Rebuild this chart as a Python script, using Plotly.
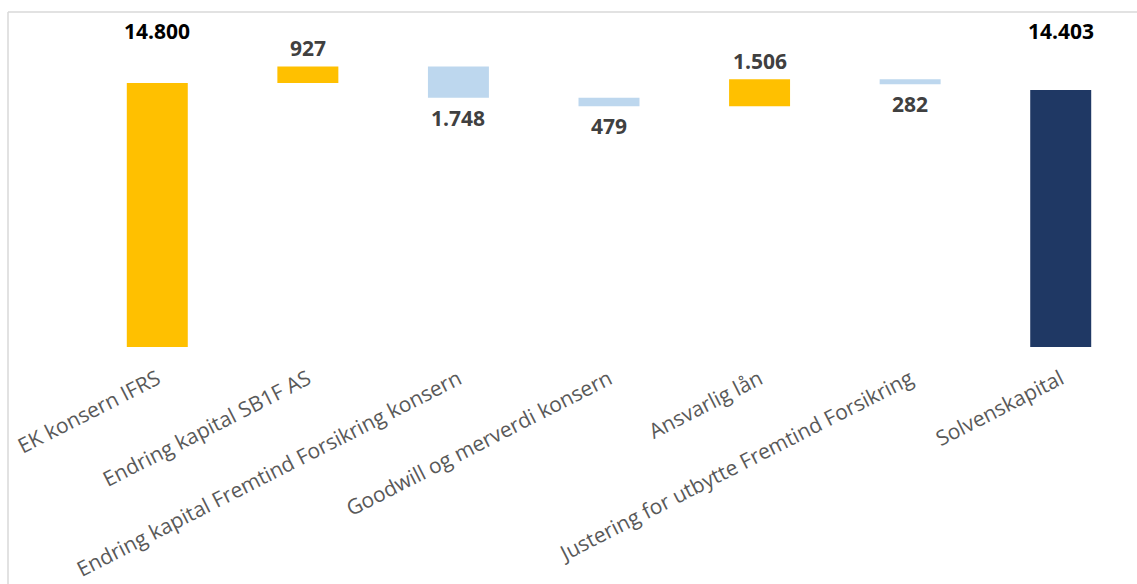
import plotly.graph_objects as go

categories = [
    "EK konsern IFRS",
    "Endring kapital SB1F AS",
    "Endring kapital Fremtind Forsikring konsern",
    "Goodwill og merverdi konsern",
    "Ansvarlig lån",
    "Justering for utbytte Fremtind Forsikring",
    "Solvenskapital",
]
values = [14800, 927, -1748, -479, 1506, -282, 14403]
measures = ["absolute", "relative", "relative", "relative", "relative", "relative", "total"]

YELLOW = "#FFC000"
LIGHTBLUE = "#BDD7EE"
NAVY = "#1F3864"

bases, heights, colors = [], [], []
running = 0
for v, m in zip(values, measures):
    if m in ("absolute", "total"):
        bases.append(0)
        heights.append(v)
        colors.append(NAVY if m == "total" else YELLOW)
        running = v
    else:
        if v >= 0:
            bases.append(running)
            heights.append(v)
            colors.append(YELLOW)
        else:
            bases.append(running + v)
            heights.append(-v)
            colors.append(LIGHTBLUE)
        running += v

def fmt(v):
    return f"{abs(v):,}".replace(",", ".")

fig = go.Figure(
    go.Bar(
        x=categories,
        y=heights,
        base=bases,
        marker=dict(color=colors, line=dict(width=0)),
        width=0.405,
        hoverinfo="skip",
    )
)

annotations = []
for cat, v, m, b, h in zip(categories, values, measures, bases, heights):
    if m in ("absolute", "total"):
        annotations.append(dict(
            x=cat, y=0.943, xref="x", yref="paper", text=f"<b>{fmt(v)}</b>",
            showarrow=False, yanchor="middle",
            font=dict(family="Open Sans", size=21, color="#000000"),
        ))
    elif v >= 0:
        annotations.append(dict(
            x=cat, y=b + h, xref="x", yref="y", text=f"<b>{fmt(v)}</b>",
            showarrow=False, yanchor="middle", yshift=18,
            font=dict(family="Open Sans", size=21, color="#404040"),
        ))
    else:
        annotations.append(dict(
            x=cat, y=b, xref="x", yref="y", text=f"<b>{fmt(v)}</b>",
            showarrow=False, yanchor="middle", yshift=-20,
            font=dict(family="Open Sans", size=21, color="#404040"),
        ))

fig.update_layout(
    width=1137,
    height=584,
    margin=dict(l=82, r=1, t=12, b=237),
    paper_bgcolor="white",
    plot_bgcolor="white",
    showlegend=False,
    bargap=0.595,
    annotations=annotations,
    xaxis=dict(
        tickangle=-27,
        tickfont=dict(family="Open Sans", size=21, color="#595959"),
        ticklabelstandoff=15,
        automargin=False,
        showline=False,
        showgrid=False,
        ticks="",
        zeroline=False,
    ),
    yaxis=dict(
        range=[0, 18780],
        visible=False,
        showgrid=False,
        zeroline=False,
        automargin=False,
    ),
    shapes=[
        dict(type="line", xref="paper", yref="paper", x0=-74 / 1054, x1=1.01, y0=1, y1=1,
             line=dict(color="#D9D9D9", width=1.5)),
        dict(type="line", xref="paper", yref="paper", x0=-74 / 1054, x1=-74 / 1054, y0=1, y1=-0.8,
             line=dict(color="#D9D9D9", width=1.5)),
    ],
)

fig.write_html(
    "out.html",
    config={"displayModeBar": False},
    post_script="document.body.style.margin='0';document.body.style.overflow='hidden';",
)
